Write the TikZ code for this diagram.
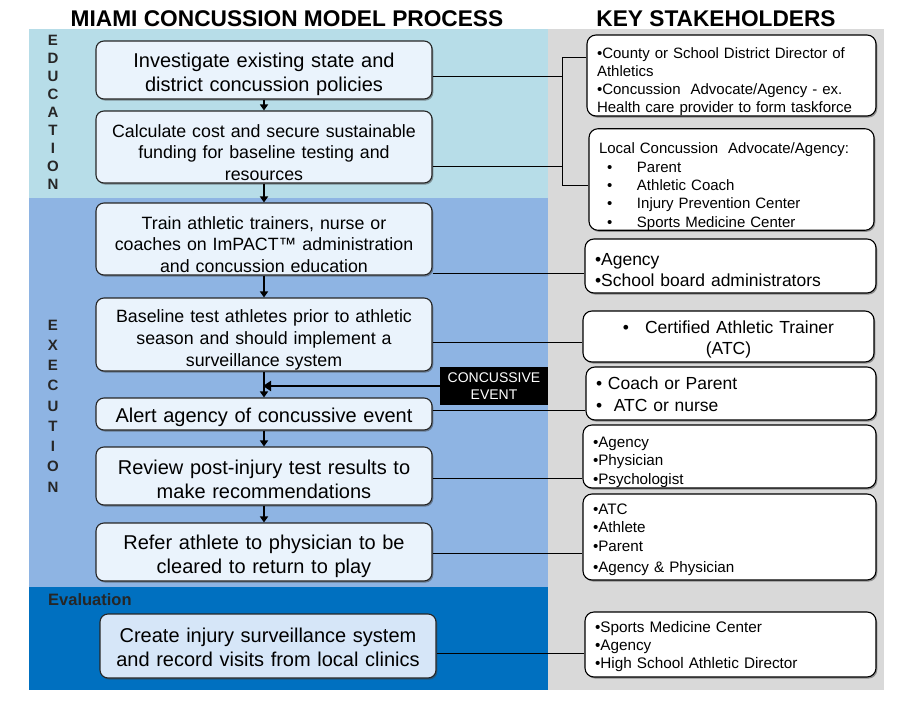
\documentclass[tikz,border=0pt]{standalone}
\usepackage{fontspec}
\setmainfont{Liberation Sans}
\usetikzlibrary{shadows,arrows.meta}
\definecolor{edu}{HTML}{B7DDE8}
\definecolor{exe}{HTML}{8EB4E3}
\definecolor{eva}{HTML}{0070C0}
\definecolor{side}{HTML}{D9D9D9}
\definecolor{boxfill}{HTML}{EAF3FC}
\definecolor{evafill}{HTML}{D6E6F8}
\begin{document}
\begin{tikzpicture}[x=1pt,y=-1pt,
  lbox/.style={draw=black!85, line width=1.1pt, rounded corners=8pt, fill=boxfill,
    minimum width=336pt, text width=330pt, inner xsep=3pt, inner ysep=0pt, align=center,
    drop shadow={shadow xshift=1.3pt,shadow yshift=-1.6pt,fill=black!75}},
  rbox/.style={draw=black, line width=1.1pt, rounded corners=9pt, fill=white,
    inner xsep=10pt, inner ysep=0pt, align=left,
    drop shadow={shadow xshift=1.3pt,shadow yshift=-1.6pt,fill=black!75}},
  dn/.style={execute at begin node={\rule{0pt}{\dimexpr0.75em+#1*2\relax}}},
  flow/.style={draw=black, line width=1.6pt, -{Triangle[length=6pt,width=8pt]}},
  link/.style={draw=black, line width=0.9pt},
  vlet/.style={font=\bfseries\fontsize{15}{18}\selectfont, text=black!85, inner sep=0pt, align=center},
  ttl/.style={font=\bfseries\fontsize{22.7}{26}\selectfont, inner sep=0pt}
]
\useasboundingbox (0,0) rectangle (902,709);
\fill[white] (0,0) rectangle (902,709);
% backgrounds
\fill[side] (548,29) rectangle (884,690);
\fill[edu] (29,29) rectangle (548,198);
\fill[exe] (29,198) rectangle (548,587);
\fill[eva] (29,587) rectangle (548,690);
% titles
\node[ttl] (t1) at (287,19) {MIAMI CONCUSSION MODEL PROCESS};
\node[ttl] (t2) at (716,19) {KEY STAKEHOLDERS};
% vertical labels
\node[vlet] (edul) at (53,112) {E\\D\\U\\C\\A\\T\\I\\O\\N};
\node[vlet, font=\bfseries\fontsize{15}{20.25}\selectfont] (exel) at (53,406) {E\\X\\E\\C\\U\\T\\I\\O\\N};
\node[font=\bfseries\fontsize{16.5}{18}\selectfont, text=black!85, anchor=west, inner sep=0pt] (eval) at (48,600) {Evaluation};
% left boxes
\node[lbox, dn=4pt, minimum height=58pt, font=\fontsize{20}{24}\selectfont] (b1) at (264,70) {Investigate existing state and\\district concussion policies};
\node[lbox, dn=5pt, minimum height=72pt, font=\fontsize{17.8}{21.5}\selectfont] (b2) at (264,147) {Calculate cost and secure sustainable\\funding for baseline testing and\\resources};
\node[lbox, dn=5pt, minimum height=72pt, font=\fontsize{17.8}{21.5}\selectfont] (b3) at (264,239) {Train athletic trainers, nurse or\\coaches on ImPACT™ administration\\and concussion education};
\node[lbox, dn=5pt, minimum height=73pt, font=\fontsize{17.8}{22}\selectfont] (b4) at (264,334.5) {Baseline test athletes prior to athletic\\season and should implement a\\surveillance system};
\node[lbox, dn=3pt, minimum height=32pt, font=\fontsize{20}{24}\selectfont] (b5) at (264,414) {Alert agency of concussive event};
\node[lbox, dn=3pt, minimum height=58pt, font=\fontsize{20}{24}\selectfont] (b6) at (264,476) {Review post-injury test results to\\make recommendations};
\node[lbox, dn=4.5pt, minimum height=58pt, font=\fontsize{20}{24}\selectfont] (b7) at (264,552) {Refer athlete to physician to be\\cleared to return to play};
\node[lbox, dn=1.5pt, minimum height=64pt, fill=evafill, font=\fontsize{20}{24}\selectfont] (b8) at (268,646) {Create injury surveillance system\\and record visits from local clinics};
% concussive event
\node[fill=black, text=white, minimum width=108pt, minimum height=38pt, inner sep=0pt, align=center,
  font=\fontsize{14}{17}\selectfont] (ce) at (494,386) {CONCUSSIVE\\EVENT};
\coordinate (hit) at (263,386);
% flow arrows
\draw[flow] (b1) -- (b2);
\draw[flow] (b2) -- (b3);
\draw[flow] (b3) -- (b4);
\draw[flow] (b4) -- (b5);
\draw[flow] (b5) -- (b6);
\draw[flow] (b6) -- (b7);
\draw[draw=black, line width=2.6pt, -{Triangle[length=8pt,width=10pt]}] (ce.west) -- (hit);
% right boxes
\node[rbox, dn=5.5pt, text width=269pt, minimum height=81pt, font=\fontsize{15}{18}\selectfont] (r1) at (731.5,75.5)
  {•County or School District Director of\\Athletics\\•Concussion\ \ Advocate/Agency - ex.\\Health care provider to form taskforce};
\node[rbox, dn=7pt, text width=265pt, minimum height=99pt, font=\fontsize{15}{18.3}\selectfont] (r2) at (731.5,179.5)
  {Local Concussion\ \ Advocate/Agency:\\
   \hspace*{8pt}\makebox[30pt][l]{•}Parent\\
   \hspace*{8pt}\makebox[30pt][l]{•}Athletic Coach\\
   \hspace*{8pt}\makebox[30pt][l]{•}Injury Prevention Center\\
   \hspace*{8pt}\makebox[30pt][l]{•}Sports Medicine Center};
\node[rbox, dn=4pt, text width=271pt, minimum height=54pt, font=\fontsize{17.5}{21}\selectfont] (r3) at (730.5,266)
  {•Agency\\•School board administrators};
\node[rbox, dn=3pt, text width=271pt, minimum height=51pt, align=center, font=\fontsize{17.5}{21}\selectfont] (r4) at (728.5,336.5)
  {•\hspace{16pt}Certified Athletic Trainer\\(ATC)};
\node[rbox, dn=0.5pt, text width=270pt, minimum height=53pt, font=\fontsize{17.5}{22}\selectfont] (r5) at (731,393.5)
  {• Coach or Parent\\•\ \ ATC or nurse};
\node[rbox, dn=5pt, text width=273pt, minimum height=63pt, font=\fontsize{15.2}{18.5}\selectfont] (r6) at (729.5,456.5)
  {•Agency\\•Physician\\•Psychologist};
\node[rbox, dn=2.5pt, text width=273pt, minimum height=86pt, font=\fontsize{15.2}{18.5}\selectfont] (r7) at (729.5,537)
  {•ATC\\•Athlete\\•Parent\\[3pt]•Agency \& Physician};
\node[rbox, dn=2pt, text width=271pt, minimum height=65pt, font=\fontsize{15.3}{18}\selectfont] (r8) at (730.5,644.5)
  {•Sports Medicine Center\\•Agency\\•High School Athletic Director};
% links
\coordinate (ja) at (562,57);
\coordinate (jb) at (562,185);
\draw[link] (b1.east |- 0,76) -- (ja |- 0,76);
\draw[link] (b2.east |- 0,166) -- (ja |- 0,166);
\draw[link] (r1.west |- ja) -- (ja) -- (jb) -- (r2.west |- jb);
\draw[link] (b3.east |- 0,273) -- (r3.west |- 0,273);
\draw[link] (b4.east |- 0,342) -- (r4.west |- 0,342);
\draw[link] (b5.east |- 0,410) -- (r5.west |- 0,410);
\draw[link] (b6.east |- 0,478) -- (r6.west |- 0,478);
\draw[link] (b7.east |- 0,553) -- (r7.west |- 0,553);
\draw[link] (b8.east |- 0,653) -- (r8.west |- 0,653);
\end{tikzpicture}
\end{document}
